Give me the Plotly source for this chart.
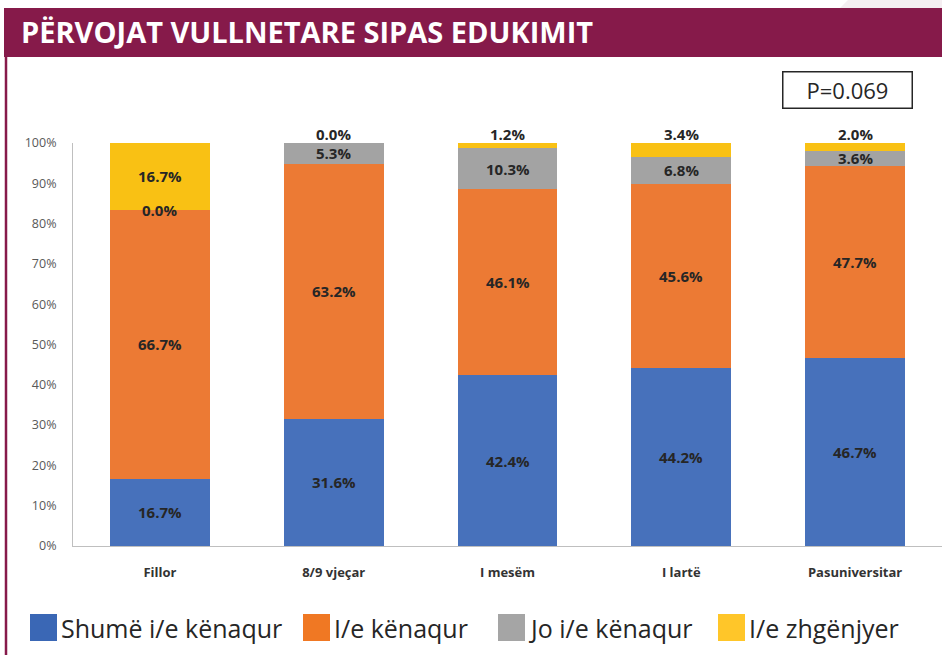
import numpy as np
import plotly.graph_objects as go

# ── Data ──────────────────────────────────────────────────────────────────────
CATEGORIES = ["Fillor", "8/9 vjeçar", "I mesëm", "I lartë", "Pasuniversitar"]
SERIES = ["Shumë i/e kënaqur", "I/e kënaqur", "Jo i/e kënaqur", "I/e zhgënjyer"]

SHUME_KENAQUR = [16.7, 31.6, 42.4, 44.2, 46.7]
KENAQUR = [66.7, 63.2, 46.1, 45.6, 47.7]
JO_KENAQUR = [0.0, 5.3, 10.3, 6.8, 3.6]
ZHGENJYER = [16.7, 0.0, 1.2, 3.4, 2.0]

P_VALUE = "P=0.069"
TITLE = "PËRVOJAT VULLNETARE SIPAS EDUKIMIT"

# ── Style ─────────────────────────────────────────────────────────────────────
MAROON = "#861A4A"
BAR_COLORS = ["#4771BB", "#EC7A34", "#A3A3A3", "#F9C114"]
LEGEND_COLORS = ["#3A67B5", "#F07823", "#A5A5A5", "#FFC629"]
TEXT_DARK = "#262626"
FONT = "Open Sans, sans-serif"

# plot area in pixels: x 73..942, y 143 (100%) .. 546 (0%)
PW, PH, L, T = 869, 403, 73, 143


def px(x):
    return (x - L) / PW


def py(y):
    return 1 + (T - y) / PH


values = [SHUME_KENAQUR, KENAQUR, JO_KENAQUR, ZHGENJYER]

fig = go.Figure()
for name, vals, color in zip(SERIES, values, BAR_COLORS):
    fig.add_trace(go.Bar(
        x=CATEGORIES,
        y=[v / 100 for v in vals],
        name=name,
        marker=dict(color=color, line=dict(width=0)),
        showlegend=False,
        hoverinfo="skip",
    ))

# segment labels, centred in each segment; tiny top segments go above the bar
bottoms = np.zeros(len(CATEGORIES))
for si, vals in enumerate(values):
    for ci, v in enumerate(vals):
        if si == len(values) - 1 and v < 5:
            ypos = 1.022
        else:
            ypos = (bottoms[ci] + v / 2) / 100
        fig.add_annotation(
            x=CATEGORIES[ci], y=ypos, xref="x", yref="paper",
            text=f"<b>{v:.1f}%</b>", showarrow=False,
            xanchor="center", yanchor="middle",
            font=dict(size=15, color=TEXT_DARK, family=FONT),
        )
    bottoms += np.array(vals)

# title banner and frame
fig.add_shape(type="rect", xref="paper", yref="paper",
              x0=px(4), x1=1.01, y0=py(57), y1=py(8),
              fillcolor=MAROON, line_width=0, layer="below")
fig.add_shape(type="line", xref="paper", yref="paper",
              x0=px(6), x1=px(6), y0=py(660), y1=py(57),
              line=dict(color=MAROON, width=2.5))
fig.add_shape(type="path", xref="paper", yref="paper",
              path=f"M {px(848)} {py(0)} L 1.01 {py(0)} "
                   f"L 1.01 {py(8)} L {px(840)} {py(8)} Z",
              fillcolor="#F4EEF1", line_width=0, layer="below")
fig.add_annotation(
    x=px(19), y=py(32), xref="paper", yref="paper",
    xanchor="left", yanchor="middle", showarrow=False,
    text=f"<b>{TITLE}</b>",
    font=dict(size=29, color="white", family=FONT),
)

# p-value box
fig.add_annotation(
    x=px(847), y=py(90), xref="paper", yref="paper",
    xanchor="center", yanchor="middle",
    showarrow=False, text=P_VALUE,
    font=dict(size=22, color=TEXT_DARK, family=FONT),
    bordercolor="#262626", borderwidth=1.5, borderpad=2,
    width=124, height=31, bgcolor="white",
)

# manual legend
legend_x = [30, 303, 498, 718]
for name, color, lx in zip(SERIES, LEGEND_COLORS, legend_x):
    fig.add_shape(type="rect", xref="paper", yref="paper",
                  x0=px(lx), x1=px(lx + 27),
                  y0=py(641), y1=py(614),
                  fillcolor=color, line_width=0)
    fig.add_annotation(
        x=px(lx + 29), y=py(628), xref="paper", yref="paper",
        xanchor="left", yanchor="middle", showarrow=False, text=name,
        font=dict(size=25, color=TEXT_DARK, family=FONT),
    )

fig.update_layout(
    barmode="stack",
    bargap=0.425,
    width=942, height=655,
    margin=dict(l=L, r=0, t=T, b=655 - T - PH),
    plot_bgcolor="white", paper_bgcolor="white",
    font=dict(family=FONT, color=TEXT_DARK),
    xaxis=dict(
        showgrid=False, zeroline=False,
        showline=True, linecolor="#BFBFBF", linewidth=1,
        ticks="", ticklabelstandoff=14,
        tickfont=dict(size=13, color="#333333", family=FONT, weight="bold"),
    ),
    yaxis=dict(
        range=[0, 1], tickformat=".0%", dtick=0.1,
        showgrid=False, zeroline=False,
        showline=True, linecolor="#BFBFBF", linewidth=1,
        ticks="", ticklabelstandoff=13,
        tickfont=dict(size=12.5, color="#595959", family=FONT),
    ),
)

fig.write_html("out.html", config={"displayModeBar": False},
               post_script="document.body.style.margin='0';")
